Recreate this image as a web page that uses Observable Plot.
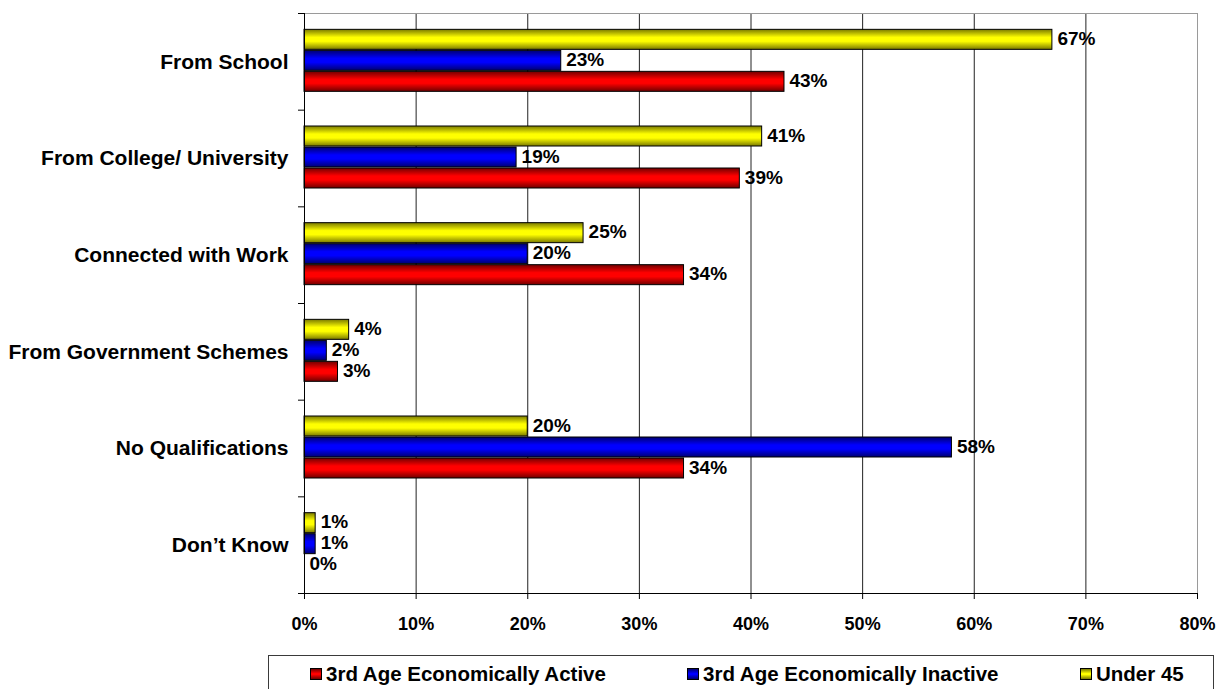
<!DOCTYPE html>
<html>
<head>
<meta charset="utf-8">
<script src="https://cdn.jsdelivr.net/npm/d3@7"></script>
<script src="https://cdn.jsdelivr.net/npm/@observablehq/plot@0.6"></script>
<style>
  html, body { margin: 0; padding: 0; background: #fff; overflow: hidden; }
  body { width: 1221px; height: 689px; position: relative; font-family: "Liberation Sans", Arial, sans-serif; }
  #chart { position: absolute; left: 0; top: 0; }
  #legend { position: absolute; left: 268px; top: 655px; width: 946px; height: 44px; border: 1px solid #3a3a3a; box-sizing: border-box; }
  .item { position: absolute; top: 6px; font-weight: bold; font-size: 20.5px; color: #000; white-space: nowrap; line-height: 24px; }
  .sw { display: inline-block; width: 10px; height: 10px; border: 1px solid #000; vertical-align: middle; margin-right: 4px; position: relative; top: -2px; }
</style>
</head>
<body>
<div id="chart"></div>
<div id="legend"></div>
<script>
// ---- data ----
const categories = ["From School", "From College/ University", "Connected with Work", "From Government Schemes", "No Qualifications", "Don’t Know"];
const seriesNames = ["Under 45", "3rd Age Economically Inactive", "3rd Age Economically Active"];
const under45 = [67, 41, 25, 4, 20, 1];
const inactive = [23, 19, 20, 2, 58, 1];
const active = [43, 39, 34, 3, 34, 0];
const xTicks = [0, 10, 20, 30, 40, 50, 60, 70, 80];
const legendOrder = ["3rd Age Economically Active", "3rd Age Economically Inactive", "Under 45"];

const seriesValues = [under45, inactive, active];
const rows = categories.flatMap((c, i) => seriesNames.map((s, k) => ({cat: c, series: s, value: seriesValues[k][i]})));

// ---- styles ----
const colors = [
  {id: "gY", dark: "#7a7a00", light: "#ffff00"},
  {id: "gB", dark: "#000070", light: "#0000ff"},
  {id: "gR", dark: "#700000", light: "#ff0000"}
];
const W = 1221, H = 650, mt = 13, mb = 57, ml = 304, mr = 24;
const bw = (H - mt - mb) / categories.length;
const barH = 20;
const offsets = [-22, -1, 20];

const barMarks = seriesNames.map((s, k) => Plot.barX(rows.filter(d => d.series === s && d.value > 0), {
  x: "value", y: "cat",
  fill: `url(#${colors[k].id})`, stroke: "#000", strokeWidth: 1,
  insetTop: bw / 2 - barH / 2 + offsets[k],
  insetBottom: bw / 2 - barH / 2 - offsets[k]
}));
const labelMarks = seriesNames.map((s, k) => Plot.text(rows.filter(d => d.series === s), {
  x: "value", y: "cat", dy: offsets[k] - 1, dx: 5,
  text: d => d.value + "%", textAnchor: "start",
  fontSize: 19, fontWeight: "bold", fill: "#000"
}));

const chart = Plot.plot({
  width: W, height: H,
  marginTop: mt, marginBottom: mb, marginLeft: ml, marginRight: mr,
  style: {fontFamily: "'Liberation Sans', Arial, sans-serif", fontWeight: "bold", color: "#000", background: "#fff", overflow: "visible"},
  x: {domain: [0, 80]},
  y: {domain: categories, padding: 0, round: false},
  marks: [
    Plot.gridX(xTicks, {stroke: "#222", strokeOpacity: 1}),
    ...barMarks,
    Plot.frame({anchor: "top", stroke: "#9a9a9a"}),
    Plot.frame({anchor: "right", stroke: "#9a9a9a"}),
    Plot.frame({anchor: "bottom", stroke: "#000"}),
    Plot.frame({anchor: "left", stroke: "#000"}),
    Plot.axisY({tickSize: 0, tickPadding: 16, fontSize: 21, fontWeight: "bold", label: null}),
    Plot.axisY({tickSize: 6, tickFormat: () => "", dy: -bw / 2, label: null}),
    Plot.axisY({ticks: [categories[categories.length - 1]], tickSize: 6, tickFormat: () => "", dy: bw / 2, label: null}),
    Plot.axisX({ticks: xTicks, tickFormat: d => d + "%", tickSize: 6, tickPadding: 18, fontSize: 18, fontWeight: "bold", label: null}),
    ...labelMarks
  ]
});

// gradients
const svg = d3.select(chart);
const defs = svg.insert("defs", ":first-child");
colors.forEach(c => {
  const g = defs.append("linearGradient").attr("id", c.id).attr("x1", 0).attr("y1", 0).attr("x2", 0).attr("y2", 1);
  g.append("stop").attr("offset", "0%").attr("stop-color", c.dark);
  g.append("stop").attr("offset", "40%").attr("stop-color", c.light);
  g.append("stop").attr("offset", "60%").attr("stop-color", c.light);
  g.append("stop").attr("offset", "100%").attr("stop-color", c.dark);
});
document.getElementById("chart").appendChild(chart);

// legend
const legendLeft = [41, 418, 811];
const legend = document.getElementById("legend");
legendOrder.forEach((name, i) => {
  const k = seriesNames.indexOf(name);
  const c = colors[k];
  const item = document.createElement("div");
  item.className = "item";
  item.style.left = legendLeft[i] + "px";
  const sw = document.createElement("span");
  sw.className = "sw";
  sw.style.background = `linear-gradient(${c.dark}, ${c.light} 45%, ${c.light} 55%, ${c.dark})`;
  item.appendChild(sw);
  item.appendChild(document.createTextNode(name));
  legend.appendChild(item);
});
</script>
</body>
</html>
